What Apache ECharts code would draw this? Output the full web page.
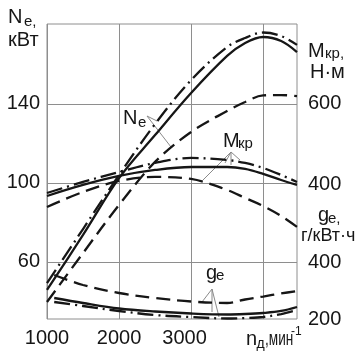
<!DOCTYPE html>
<html><head><meta charset="utf-8">
<script src="https://cdn.jsdelivr.net/npm/echarts@6/dist/echarts.min.js"></script>
<style>html,body{margin:0;padding:0;background:#fff}#c{width:358px;height:354px}</style>
</head><body><div id="c"></div>
<script>
// engine speed, rpm
const rpm   = [1000,1500,2000,2500,3000,3500,3750,4000,4250,4470];
const rpmGe = [1100,1500,2000,2500,3000,3500,3750,4000,4250,4470];
// Ne, kW
const neSolid   = [45.7,73.6,102.4,124.2,145.5,164.3,170.9,173.9,171.9,166.3];
const neDashDot = [49.2,76.6,104.0,129.8,152.1,168.8,173.4,176.2,174.4,169.9];
const neDashed  = [39.6,64.4,88.8,110.6,125.8,136.4,141.0,144.3,144.5,144.0];
// Mkp, N·m
const mSolid   = [372.8,400.0,422.2,437.0,444.4,444.4,439.5,427.2,412.3,400.0];
const mDashDot = [380.2,407.4,432.1,454.3,466.7,461.7,454.3,442.0,424.7,407.4];
const mDashed  = [345.7,382.7,409.9,419.8,414.8,387.7,367.9,348.1,323.5,296.3];
// ge, g/kWh
const geSolid   = [273.7,256.1,236.8,226.3,219.3,215.8,217.5,221.1,228.1,242.1];
const geDashDot = [259.6,245.6,228.1,214.0,207.0,201.8,203.5,207.0,217.5,231.6];
const geDashed  = [354.4,319.3,291.2,273.7,261.4,256.1,268.4,278.9,289.5,298.2];
// ticks / labels
const xTicks = [1000,2000,3000,4000];
const xTickLabels = [1000,2000,3000];
const neTicks = [60,100,140];
const mTicks = [400,600];
const geTicks = [200,400];

const FONT = '"Liberation Sans", Arial, sans-serif';
const GRID = '#8e8e8e';
const INK = '#161616';
const DASH = [14,7];
const DASHDOT = [16,5,2,5];

function mk(xs, ys, axis, type) {
  return {type:'line', yAxisIndex:axis, data: xs.map((x,i)=>[x, ys[i]]),
    smooth:0.35, symbol:'none', silent:true, animation:false,
    lineStyle:{color:INK, width:2.3, type:type}};
}
function txt(t, x, y, size, sx) {
  return {type:'text', silent:true, x:x, y:y, scaleX:(sx||1),
    style:{text:t, x:0, y:0, fill:INK,
    font: size + 'px ' + FONT, textAlign:'left', textVerticalAlign:'middle'}};
}
function pl(pts) {
  return {type:'polyline', silent:true, shape:{points:pts}, style:{stroke:'#8a8a8a', lineWidth:1, fill:null}};
}

const chart = echarts.init(document.getElementById('c'), null, {renderer:'canvas'});
chart.setOption({
  animation:false,
  backgroundColor:'#fff',
  grid:{left:47, right:61, top:24, bottom:35, show:true, borderColor:GRID, borderWidth:1},
  xAxis:{type:'value', min:1000, max:4470,
    axisLine:{show:false}, axisTick:{show:false, customValues:xTicks},
    splitLine:{show:true, lineStyle:{color:GRID, width:1}},
    axisLabel:{customValues:xTickLabels, margin:9, color:INK, fontSize:20, fontFamily:FONT,
      formatter:function(v){ return v===3000 ? '{s|'+v+'}' : String(v); },
      rich:{s:{padding:[0,13,0,0], fontSize:20, fontFamily:FONT, color:INK}}}},
  yAxis:[
    {type:'value', min:31, max:180.5, position:'left',
      axisLine:{show:false}, axisTick:{show:false, customValues:neTicks},
      splitLine:{show:true, lineStyle:{color:GRID, width:1}},
      axisLabel:{customValues:neTicks, margin:7, color:INK, fontSize:20, fontFamily:FONT}},
    {type:'value', min:69, max:797.5, position:'right',
      axisLine:{show:false}, axisTick:{show:false, customValues:mTicks}, splitLine:{show:false},
      axisLabel:{customValues:mTicks, margin:11, color:INK, fontSize:20, fontFamily:FONT}},
    {type:'value', min:200, max:1235, position:'right', offset:0,
      axisLine:{show:false}, axisTick:{show:false, customValues:geTicks}, splitLine:{show:false},
      axisLabel:{customValues:geTicks, margin:11, color:INK, fontSize:20, fontFamily:FONT}}
  ],
  series:[
    mk(rpm, neSolid, 0, 'solid'),
    mk(rpm, neDashDot, 0, DASHDOT),
    mk(rpm, neDashed, 0, DASH),
    mk(rpm, mSolid, 1, 'solid'),
    mk(rpm, mDashDot, 1, DASHDOT),
    mk(rpm, mDashed, 1, DASH),
    mk(rpmGe, geSolid, 2, 'solid'),
    mk(rpmGe, geDashDot, 2, DASHDOT),
    mk(rpmGe, geDashed, 2, DASH)
  ],
  graphic:[
    // left axis title
    txt('N', 8, 17.5, 20), txt('e,', 24, 21.5, 15), txt('кВт', 8, 40.5, 20),
    // right axis titles
    txt('M', 308, 51, 20), txt('кр,', 325, 54, 15), txt('Н·м', 310, 72.5, 20),
    txt('g', 318, 215, 20), txt('e,', 328, 219, 15), txt('г/кВт·ч', 301, 236.5, 18),
    // x axis title
    txt('n', 246, 339.5, 20), txt('д', 256.5, 344, 14), txt(',мин', 265, 339.5, 20, 0.68), txt('-1', 291, 332, 12),
    // curve labels
    txt('N', 123, 118.5, 20), txt('e', 138, 123, 15),
    txt('M', 223, 141, 20), txt('кр', 238, 144, 15),
    txt('g', 206, 273, 20), txt('e', 216, 276, 15),
    // leaders
    pl([[157,121],[147,116],[171,147]]),
    pl([[225,163],[231,152],[240,160]]), pl([[231,152],[231,165]]), pl([[231,152],[203,180]]),
    pl([[202,302],[212,289],[212,312]]), pl([[212,289],[219,317]])
  ]
});
</script></body></html>
